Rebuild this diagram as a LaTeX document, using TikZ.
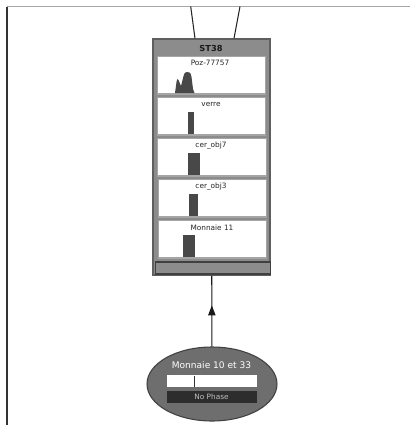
\documentclass[tikz,border=0pt]{standalone}
\usepackage{fontspec}
\setmainfont{DejaVu Sans}
\usetikzlibrary{arrows}
\usetikzlibrary{arrows.meta}
\usetikzlibrary{shapes.geometric}
\usetikzlibrary{decorations.markings}

\definecolor{boxgray}{RGB}{140,140,140}
\definecolor{edgegray}{RGB}{95,95,95}
\definecolor{stripgray}{RGB}{165,165,165}
\definecolor{bargray}{RGB}{72,72,72}
\definecolor{phasegray}{RGB}{110,110,110}
\definecolor{darkbar}{RGB}{45,45,45}

\begin{document}
\begin{tikzpicture}[x=0.75pt,y=0.75pt,yscale=-1,xscale=1,
  stbox/.style={draw=edgegray, fill=boxgray, line width=0.9pt, minimum width=117*0.75pt, minimum height=236*0.75pt, inner sep=0pt},
  panel/.style={fill=white, draw=stripgray, line width=0.5pt},
  panelbase/.style={draw=stripgray, line width=1.5pt},
  bar/.style={fill=bargray, draw=none},
  lbl/.style={font=\fontsize{5.5}{6}\selectfont, inner sep=0pt, text=black!85},
  phasenode/.style={ellipse, draw=black!75, fill=phasegray, line width=0.8pt, minimum width=130*0.75pt, minimum height=74*0.75pt, inner sep=0pt},
  link/.style={draw=black!90, line width=0.8pt, postaction={decorate}, decoration={markings, mark=at position 0.58 with {\arrow{Triangle[length=7.5pt,width=5.5pt]}}}}
]
%uncomment if require: \path (0,425); %set diagram left start at 0, and has height of 425
\useasboundingbox (0,0) rectangle (410,425);

%Straight Lines: frame
\draw [color=black!35, line width=0.9pt] (410,6.5) -- (7,6.5) ;
\draw [color=black!80, line width=0.9pt] (7,6.5) -- (7,425) ;

%Shape: Rectangle ST38
\node [stbox] (st38) at (211.5,157) {};
% Text Node
\node [font=\bfseries\fontsize{6.2}{7}\selectfont, inner sep=0pt, text=black!90] (st38 title) at (211,48) {ST38};

%Shape: Rectangle panels
\draw [panel] (157,56) rectangle (265,94) ;
\draw [panelbase] (157,93.5) -- (265,93.5) ;
\draw [panel] (157,97) rectangle (265,135) ;
\draw [panelbase] (157,134.5) -- (265,134.5) ;
\draw [panel] (157,138) rectangle (266,176) ;
\draw [panelbase] (157,175.5) -- (266,175.5) ;
\draw [panel] (158,179) rectangle (266,217) ;
\draw [panelbase] (158,216.5) -- (266,216.5) ;
\draw [panel] (158,220) rectangle (266,258) ;
\draw [panelbase] (158,257.5) -- (266,257.5) ;

%Shape: Free Drawing Poz-77757
\fill [bargray] (175,93) -- (176.5,82) .. controls (177,78.5) and (178,78.5) .. (178.5,80) -- (181,86) -- (183.5,76) .. controls (184.5,72.5) and (185.5,72) .. (187,72) -- (189.5,72.5) .. controls (190.5,73) and (191,74) .. (191.5,77) -- (193,89) -- (194.5,93) -- cycle ;
%Shape: Rectangle bars
\fill [bar] (188,112) rectangle (193.5,134) ;
\fill [bar] (188,153) rectangle (200,175) ;
\fill [bar] (189,194) rectangle (197.5,216) ;
\fill [bar] (183,235) rectangle (195,257) ;

% Text Node
\node [lbl] (poz) at (210,63) {Poz-77757};
% Text Node
\node [lbl] (verre) at (211,104) {verre};
% Text Node
\node [lbl] (cer7) at (211,145.5) {cer\_obj7};
% Text Node
\node [lbl] (cer3) at (211,186.5) {cer\_obj3};
% Text Node
\node [lbl] (monnaie11) at (212,227.5) {Monnaie 11};

%Shape: Rectangle footer
\draw [draw=black!75, fill=boxgray, line width=0.8pt] (155.5,262) rectangle (270.5,274) ;

%Straight Lines: links upward
\coordinate (up left) at (190.7,6.5);
\coordinate (up right) at (240,6.5);
\draw [color=black!85, line width=0.8pt] (up left) -- ([xshift=-16.5*0.75pt]st38.north) ;
\draw [color=black!85, line width=0.8pt] (up right) -- ([xshift=22.5*0.75pt]st38.north) ;

%Shape: Ellipse
\node [phasenode] (monnaie) at (212,384) {};
% Text Node
\node [font=\fontsize{6.8}{8}\selectfont, inner sep=0pt, text=white] (monnaie title) at (211.5,365) {Monnaie 10 et 33};
%Shape: Rectangle
\draw [fill=white, draw=none] (167,375) rectangle (257,387) ;
\draw [color=black!80, line width=0.6pt] (194,375.5) -- (194,387) ;
\draw [fill=darkbar, draw=none] (167,391) rectangle (257,403) ;
% Text Node
\node [font=\fontsize{5.5}{6}\selectfont, inner sep=0pt, text=black!25] (no phase) at (211.5,397) {No Phase};

%Straight Lines: arrow
\draw [link] (monnaie) -- (st38) ;

\end{tikzpicture}
\end{document}
